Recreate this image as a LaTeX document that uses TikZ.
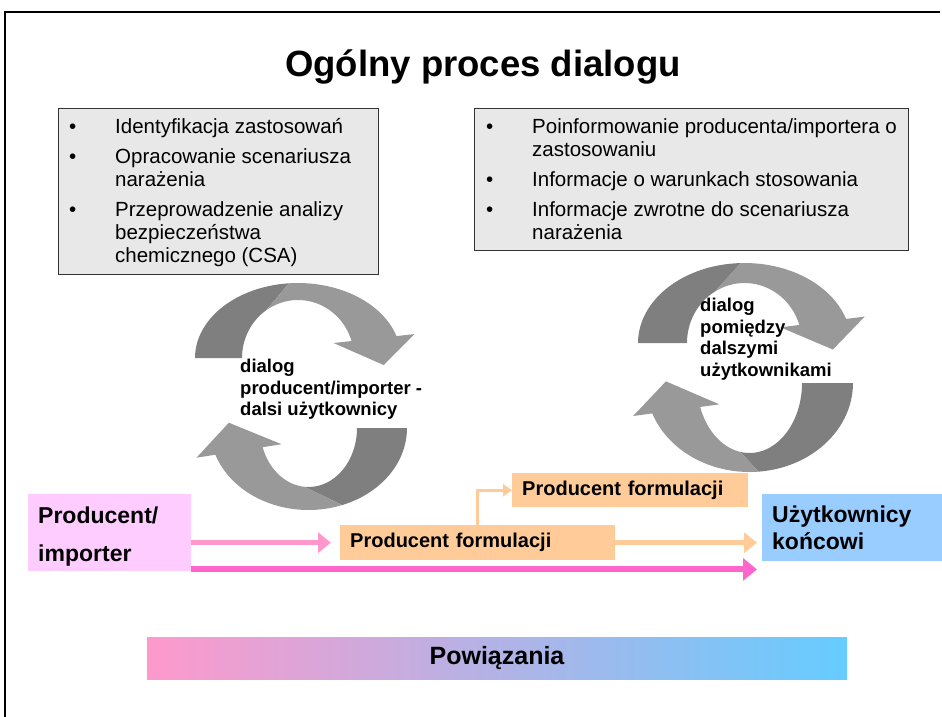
\documentclass[tikz,border=0pt]{standalone}
\usepackage{fontspec}
\setmainfont{Liberation Sans}
\usetikzlibrary{arrows.meta}
\definecolor{boxgrey}{HTML}{E8E8E8}
\definecolor{cycledark}{HTML}{7F7F7F}
\definecolor{cyclelight}{HTML}{999999}
\definecolor{peach}{HTML}{FFCC99}
\definecolor{lilac}{HTML}{FFCCFF}
\definecolor{skyblue}{HTML}{99CCFF}
\definecolor{rosepink}{HTML}{FF99CC}
\definecolor{deeppink}{HTML}{FF66CC}
\definecolor{cyanblue}{HTML}{66CCFF}
\definecolor{midlilac}{HTML}{CDB3E6}
\begin{document}
\begin{tikzpicture}[x=1pt,y=-1pt,
  greybox/.style={draw=black!80,fill=boxgrey,line width=0.9pt,anchor=north west,inner sep=0pt},
  listtext/.style={anchor=north west,inner sep=0pt,font=\fontsize{20.5}{23}\selectfont},
  cyclelabel/.style={anchor=north west,inner sep=0pt,align=left,font=\bfseries\fontsize{18.5}{21.5}\selectfont},
  rolebox/.style={anchor=north west,inner xsep=10pt,inner ysep=0pt,align=left,font=\bfseries\fontsize{23}{27}\selectfont},
  formbox/.style={fill=peach,anchor=north west,inner xsep=10pt,inner ysep=0pt,align=left,font=\bfseries\fontsize{20}{24}\selectfont},
  flow/.style={line width=#1},
  ]
  \useasboundingbox (0,0) rectangle (942,717);
  % frame of the slide
  \draw[line width=2pt] (5,717) -- (5,12) -- (940,12);
  \node[font=\bfseries\fontsize{36.5}{40}\selectfont] (title) at (483,67) {Ogólny proces dialogu};

  % boxes with the tasks
  \node[greybox,minimum width=320,minimum height=166] (leftbox) at (58,108) {};
  \node[listtext] (lefttasks) at (69,117) {%
    \begin{tabular}{@{}p{46pt}@{}l@{}}
      \textbullet & Identyfikacja zastosowań\\[7pt]
      \textbullet & Opracowanie scenariusza\\
                  & narażenia\\[7pt]
      \textbullet & Przeprowadzenie analizy\\
                  & bezpieczeństwa\\
                  & chemicznego (CSA)
    \end{tabular}};
  \node[greybox,minimum width=434,minimum height=142] (rightbox) at (474,108) {};
  \node[listtext] (righttasks) at (486,117) {%
    \begin{tabular}{@{}p{46pt}@{}l@{}}
      \textbullet & Poinformowanie producenta/importera o\\
                  & zastosowaniu\\[7pt]
      \textbullet & Informacje o warunkach stosowania\\[7pt]
      \textbullet & Informacje zwrotne do scenariusza\\
                  & narażenia
    \end{tabular}};

  % the two cycles of arrows, each arc drawn as the upper one and turned
  \foreach \cx/\cy/\rxo/\ryo/\rxi/\ryi/\tend/\so/\si/\rot in {%
      298/358/103/75/56/58/343/265/235/0,
      308.5/428/98.5/82/48.5/59/341/250/275/180,
      744.5/343/106.5/80/57.5/60/342.5/268/239/0,
      749.5/383/103.5/89/52.5/70/340/265/280/180} {%
    \begin{scope}[rotate around={\rot:(\cx,\cy)}]
      \pgfmathsetmacro{\pox}{\cx+\rxo*cos(\tend)}
      \pgfmathsetmacro{\poy}{\cy+\ryo*sin(\tend)}
      \pgfmathsetmacro{\pix}{\cx+\rxi*cos(\tend)}
      \pgfmathsetmacro{\piy}{\cy+\ryi*sin(\tend)}
      \pgfmathsetmacro{\tanx}{-(\rxo+\rxi)/2*sin(\tend)}
      \pgfmathsetmacro{\tany}{(\ryo+\ryi)/2*cos(\tend)}
      \pgfmathsetmacro{\headlen}{0.6*(\rxo-\rxi)/sqrt(\tanx*\tanx+\tany*\tany)}
      \pgfmathsetmacro{\tipx}{(\pox+\pix)/2+\headlen*\tanx}
      \pgfmathsetmacro{\tipy}{(\poy+\piy)/2+\headlen*\tany}
      \fill[cycledark] plot[domain=180:\so,samples=30] ({\cx+\rxo*cos(\x)},{\cy+\ryo*sin(\x)})
        -- plot[domain=\si:180,samples=30] ({\cx+\rxi*cos(\x)},{\cy+\ryi*sin(\x)}) -- cycle;
      \fill[cyclelight] plot[domain=\so:\tend,samples=30] ({\cx+\rxo*cos(\x)},{\cy+\ryo*sin(\x)})
        -- ({\pox+0.4*(\pox-\pix)},{\poy+0.4*(\poy-\piy)}) -- (\tipx,\tipy)
        -- ({\pix-0.4*(\pox-\pix)},{\piy-0.4*(\poy-\piy)})
        -- plot[domain=\tend:\si,samples=30] ({\cx+\rxi*cos(\x)},{\cy+\ryi*sin(\x)}) -- cycle;
    \end{scope}
  }
  \node[cyclelabel] (leftdialog) at (240,359) {dialog\\producent/importer -\\dalsi użytkownicy};
  \node[cyclelabel] (rightdialog) at (700,298) {dialog\\pomiędzy\\dalszymi\\użytkownikami};

  % actors in the supply chain
  \node[rolebox,fill=lilac,text width=143,minimum height=77,font=\bfseries\fontsize{23}{38}\selectfont] (producer) at (28,494) {\rule{0pt}{23.8pt}Producent/\\importer};
  \node[rolebox,fill=skyblue,text width=160,minimum height=67] (enduser) at (762,494) {Użytkownicy\\końcowi};
  \node[formbox,text width=255,minimum height=35] (formulator) at (340,525) {Producent formulacji};
  \node[formbox,text width=216,minimum height=34] (formulatorup) at (512,473) {Producent formulacji};

  % flows between them
  \draw[flow=5pt,rosepink,-{Triangle[width=20pt,length=13pt]},shorten >=9pt] (producer.east |- formulator.west) -- (formulator.west);
  \draw[flow=6pt,deeppink,-{Triangle[width=22pt,length=14pt]},shorten >=5pt] ([yshift=2pt]producer.south east) coordinate (lowstart) -- (lowstart -| enduser.west);
  \draw[flow=5pt,peach,-{Triangle[width=20pt,length=13pt]},shorten >=5pt] (formulator.east) -- (formulator.east -| enduser.west);
  \draw[flow=3pt,peach,-{Triangle[width=12pt,length=9pt]}] (formulator.north) |- (formulatorup.west);

  % links bar
  \node[minimum width=700,minimum height=42,left color=rosepink,middle color=midlilac,right color=cyanblue,font=\bfseries\fontsize{25}{30}\selectfont] (links) at (497,658) {Powiązania};
\end{tikzpicture}
\end{document}
